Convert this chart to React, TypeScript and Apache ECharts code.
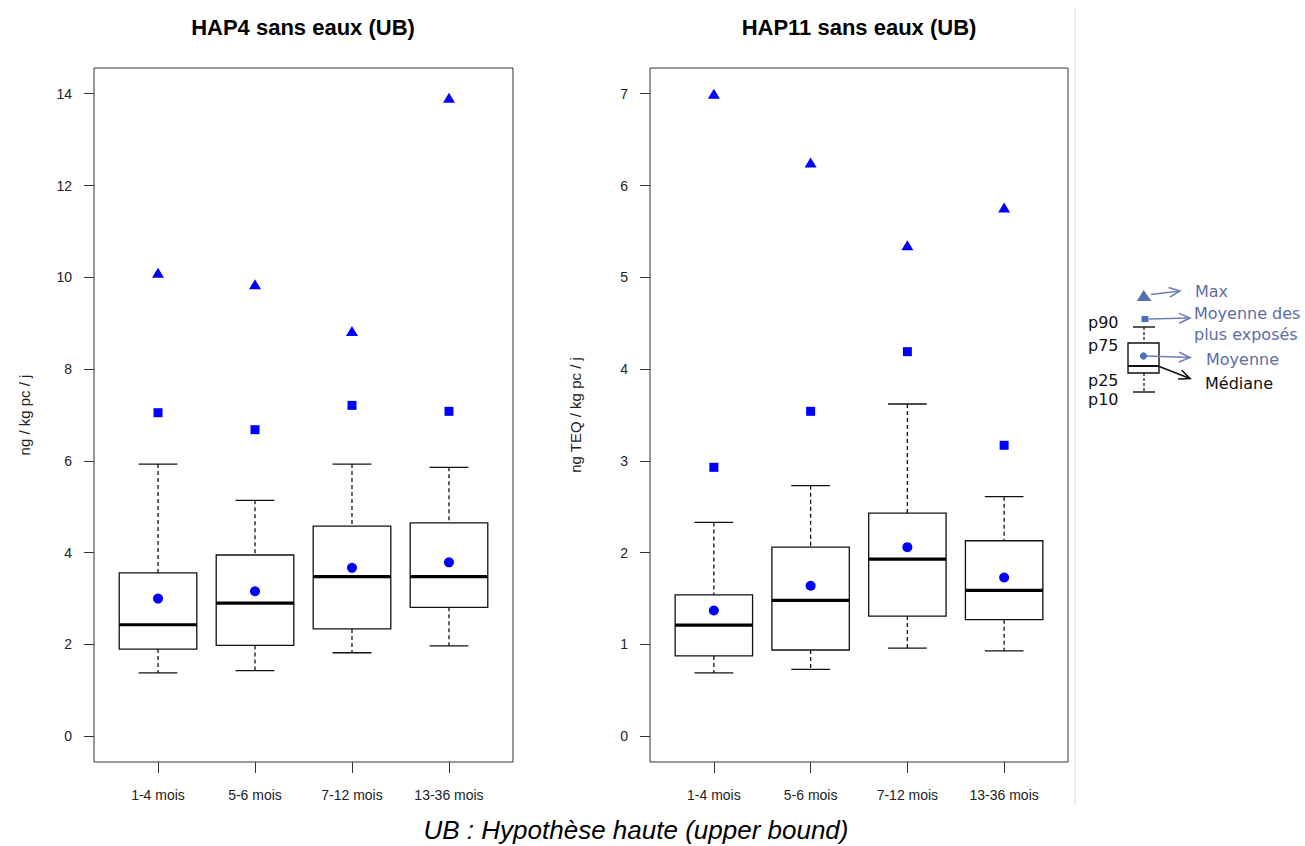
import React, { useEffect, useRef } from "react";
import * as echarts from "echarts";

const categories = ["1-4 mois", "5-6 mois", "7-12 mois", "13-36 mois"];

// HAP4 sans eaux (UB)
const hap4P10 = [1.38, 1.43, 1.82, 1.97];
const hap4P25 = [1.9, 1.98, 2.34, 2.81];
const hap4Median = [2.43, 2.9, 3.48, 3.48];
const hap4P75 = [3.56, 3.95, 4.58, 4.65];
const hap4P90 = [5.93, 5.14, 5.93, 5.86];
const hap4Mean = [3.0, 3.16, 3.67, 3.79];
const hap4TopMean = [7.05, 6.68, 7.21, 7.08];
const hap4Max = [10.1, 9.85, 8.83, 13.91];

// HAP11 sans eaux (UB)
const hap11P10 = [0.69, 0.73, 0.96, 0.93];
const hap11P25 = [0.876, 0.94, 1.31, 1.27];
const hap11Median = [1.21, 1.48, 1.93, 1.59];
const hap11P75 = [1.54, 2.06, 2.43, 2.13];
const hap11P90 = [2.33, 2.73, 3.62, 2.61];
const hap11Mean = [1.37, 1.64, 2.06, 1.73];
const hap11TopMean = [2.93, 3.54, 4.19, 3.17];
const hap11Max = [7.0, 6.25, 5.35, 5.76];

const hap4Ticks = [0, 2, 4, 6, 8, 10, 12, 14];
const hap11Ticks = [0, 1, 2, 3, 4, 5, 6, 7];
const xTicks = [1, 2, 3, 4];

const FONT = '"Liberation Sans", Arial, Helvetica, sans-serif';
const LEG_FONT = '"DejaVu Sans", Verdana, sans-serif';
const INK = "#111";
const BLUE = "#0000ff";
const LEG_BLUE = "#4a6fbf";
const LEG_TEXT = "#5d6ea3";
const LEG_ARROW = "#6a80b6";

function boxRows(p10: number[], p25: number[], med: number[], p75: number[], p90: number[]) {
  return categories.map((_, i) => [i + 1, p10[i], p25[i], med[i], p75[i], p90[i]]);
}

function renderBox(params: any, api: any) {
  const x = api.value(0);
  const p10 = api.coord([x, api.value(1)]);
  const p25 = api.coord([x, api.value(2)]);
  const med = api.coord([x, api.value(3)]);
  const p75 = api.coord([x, api.value(4)]);
  const p90 = api.coord([x, api.value(5)]);
  const bw = api.size([0.8, 0])[0];
  const cx = p10[0];
  const half = bw / 2;
  const cap = bw / 4;
  const solid = { stroke: INK, lineWidth: 1.3, fill: null };
  const dashed = { stroke: INK, lineWidth: 1.3, lineDash: [4, 3], fill: null };
  return {
    type: "group",
    children: [
      { type: "line", shape: { x1: cx, y1: p90[1], x2: cx, y2: p75[1] }, style: dashed },
      { type: "line", shape: { x1: cx, y1: p25[1], x2: cx, y2: p10[1] }, style: dashed },
      { type: "line", shape: { x1: cx - cap, y1: p90[1], x2: cx + cap, y2: p90[1] }, style: solid },
      { type: "line", shape: { x1: cx - cap, y1: p10[1], x2: cx + cap, y2: p10[1] }, style: solid },
      {
        type: "rect",
        shape: { x: cx - half, y: p75[1], width: bw, height: p25[1] - p75[1] },
        style: { stroke: INK, lineWidth: 1.3, fill: "#ffffff" },
      },
      { type: "line", shape: { x1: cx - half, y1: med[1], x2: cx + half, y2: med[1] }, style: { stroke: "#000", lineWidth: 3.2 } },
    ],
  };
}

function pts(vals: number[]) {
  return vals.map((v, i) => [i + 1, v]);
}

function panelSeries(idx: number, p10: number[], p25: number[], med: number[], p75: number[], p90: number[], mean: number[], top: number[], max: number[]) {
  const style = { color: BLUE, opacity: 1 };
  return [
    {
      type: "custom",
      xAxisIndex: idx,
      yAxisIndex: idx,
      data: boxRows(p10, p25, med, p75, p90),
      encode: { x: 0, y: [1, 2, 3, 4, 5] },
      renderItem: renderBox,
      z: 2,
      silent: true,
    },
    {
      type: "scatter",
      xAxisIndex: idx,
      yAxisIndex: idx,
      data: pts(mean),
      symbol: "circle",
      symbolSize: 10,
      itemStyle: style,
      z: 5,
    },
    {
      type: "scatter",
      xAxisIndex: idx,
      yAxisIndex: idx,
      data: pts(top),
      symbol: "rect",
      symbolSize: 9,
      itemStyle: style,
      z: 5,
    },
    {
      type: "scatter",
      xAxisIndex: idx,
      yAxisIndex: idx,
      data: pts(max),
      symbol: "triangle",
      symbolSize: [12, 10],
      itemStyle: style,
      z: 5,
    },
  ];
}

function xAxis(idx: number) {
  return {
    type: "value",
    gridIndex: idx,
    min: 0.34,
    max: 4.66,
    splitLine: { show: false },
    axisLine: { show: false, onZero: false },
    axisTick: { show: true, length: 11, customValues: xTicks, lineStyle: { color: "#333", width: 1 } },
    axisLabel: {
      customValues: xTicks,
      formatter: (v: number) => categories[Math.round(v) - 1] || "",
      margin: 26,
      fontSize: 14,
      fontFamily: FONT,
      color: "#222",
    },
  };
}

function yAxis(idx: number, min: number, max: number, ticks: number[], name: string, gap: number) {
  return {
    type: "value",
    gridIndex: idx,
    min,
    max,
    splitLine: { show: false },
    axisLine: { show: false, onZero: false },
    axisTick: { show: true, length: 10, customValues: ticks, lineStyle: { color: "#333", width: 1 } },
    axisLabel: {
      customValues: ticks,
      margin: 22,
      fontSize: 14,
      fontFamily: FONT,
      color: "#222",
    },
    name,
    nameLocation: "middle",
    nameRotate: 90,
    nameGap: gap,
    nameTextStyle: { fontSize: 15, fontFamily: FONT, color: "#222" },
  };
}

function arrow(x1: number, y1: number, x2: number, y2: number, color: string) {
  const ang = Math.atan2(y2 - y1, x2 - x1);
  const L = 12;
  const a = 0.42;
  const h1 = [x2 - L * Math.cos(ang - a), y2 - L * Math.sin(ang - a)];
  const h2 = [x2 - L * Math.cos(ang + a), y2 - L * Math.sin(ang + a)];
  return [
    { type: "line", shape: { x1, y1, x2, y2 }, style: { stroke: color, lineWidth: 1.6 } },
    { type: "polyline", shape: { points: [h1, [x2, y2], h2] }, style: { stroke: color, lineWidth: 1.6, fill: null } },
  ];
}

function legendText(text: string, x: number, y: number, color: string) {
  return {
    type: "text",
    x,
    y,
    style: { text, fill: color, font: `16px ${LEG_FONT}`, textAlign: "left", textVerticalAlign: "middle" },
  };
}

export default function App() {
  const ref = useRef<HTMLDivElement>(null);
  useEffect(() => {
    if (!ref.current) return;
    const chart = echarts.init(ref.current, null, { renderer: "svg" });
    const dashed = { stroke: INK, lineWidth: 1.2, lineDash: [3, 2] };
    const graphic: any[] = [
      {
        type: "text",
        x: 303,
        y: 27,
        style: { text: "HAP4 sans eaux (UB)", font: `bold 22px ${FONT}`, fill: "#000", textAlign: "center", textVerticalAlign: "middle" },
      },
      {
        type: "text",
        x: 859,
        y: 27,
        style: { text: "HAP11 sans eaux (UB)", font: `bold 22px ${FONT}`, fill: "#000", textAlign: "center", textVerticalAlign: "middle" },
      },
      {
        type: "text",
        x: 636,
        y: 830,
        style: { text: "UB : Hypothèse haute (upper bound)", font: `italic 26px ${FONT}`, fill: "#000", textAlign: "center", textVerticalAlign: "middle" },
      },
      { type: "line", shape: { x1: 1075, y1: 8, x2: 1075, y2: 806 }, style: { stroke: "#dcdcdc", lineWidth: 1 } },
      // legend box sketch
      { type: "polygon", shape: { points: [[1137, 301], [1151.5, 301], [1143.5, 290]] }, style: { fill: "#5470ad" } },
      { type: "rect", shape: { x: 1141.5, y: 316, width: 7, height: 6 }, style: { fill: LEG_BLUE } },
      { type: "line", shape: { x1: 1133, y1: 327, x2: 1155, y2: 327 }, style: { stroke: INK, lineWidth: 1.4 } },
      { type: "line", shape: { x1: 1144, y1: 327, x2: 1144, y2: 343 }, style: dashed },
      { type: "rect", shape: { x: 1128, y: 343, width: 31, height: 30 }, style: { stroke: INK, lineWidth: 1.4, fill: "#fff" } },
      { type: "line", shape: { x1: 1128, y1: 366, x2: 1159, y2: 366 }, style: { stroke: INK, lineWidth: 2 } },
      { type: "line", shape: { x1: 1144, y1: 373, x2: 1144, y2: 392 }, style: dashed },
      { type: "line", shape: { x1: 1133, y1: 392, x2: 1155, y2: 392 }, style: { stroke: INK, lineWidth: 1.4 } },
      { type: "circle", shape: { cx: 1143.5, cy: 356, r: 3.6 }, style: { fill: LEG_BLUE } },
      ...arrow(1151, 294.5, 1180, 291, LEG_ARROW),
      ...arrow(1149, 319, 1190, 318, LEG_ARROW),
      ...arrow(1147, 356, 1190, 357.5, LEG_ARROW),
      ...arrow(1158, 366, 1190, 378.5, "#111"),
      legendText("Max", 1195, 291, LEG_TEXT),
      legendText("Moyenne des", 1194, 313, LEG_TEXT),
      legendText("plus exposés", 1194, 334, LEG_TEXT),
      legendText("Moyenne", 1206, 359, LEG_TEXT),
      legendText("Médiane", 1205, 383, "#111"),
      legendText("p90", 1088, 322, "#111"),
      legendText("p75", 1088, 345, "#111"),
      legendText("p25", 1088, 380, "#111"),
      legendText("p10", 1088, 399, "#111"),
    ];
    chart.setOption({
      animation: false,
      backgroundColor: "#ffffff",
      grid: [
        { left: 94, top: 68, width: 419, height: 694, show: true, borderColor: "#333", borderWidth: 1, backgroundColor: "transparent" },
        { left: 650, top: 68, width: 418, height: 694, show: true, borderColor: "#333", borderWidth: 1, backgroundColor: "transparent" },
      ],
      xAxis: [xAxis(0), xAxis(1)],
      yAxis: [
        yAxis(0, -0.56, 14.56, hap4Ticks, "ng / kg pc / j", 62),
        yAxis(1, -0.28, 7.28, hap11Ticks, "ng TEQ / kg pc / j", 67),
      ],
      series: [
        ...panelSeries(0, hap4P10, hap4P25, hap4Median, hap4P75, hap4P90, hap4Mean, hap4TopMean, hap4Max),
        ...panelSeries(1, hap11P10, hap11P25, hap11Median, hap11P75, hap11P90, hap11Mean, hap11TopMean, hap11Max),
      ],
      graphic,
    });
    return () => chart.dispose();
  }, []);
  return (
    <div
      ref={ref}
      style={{ position: "absolute", left: 0, top: 0, width: 1305, height: 846, background: "#fff" }}
    />
  );
}
